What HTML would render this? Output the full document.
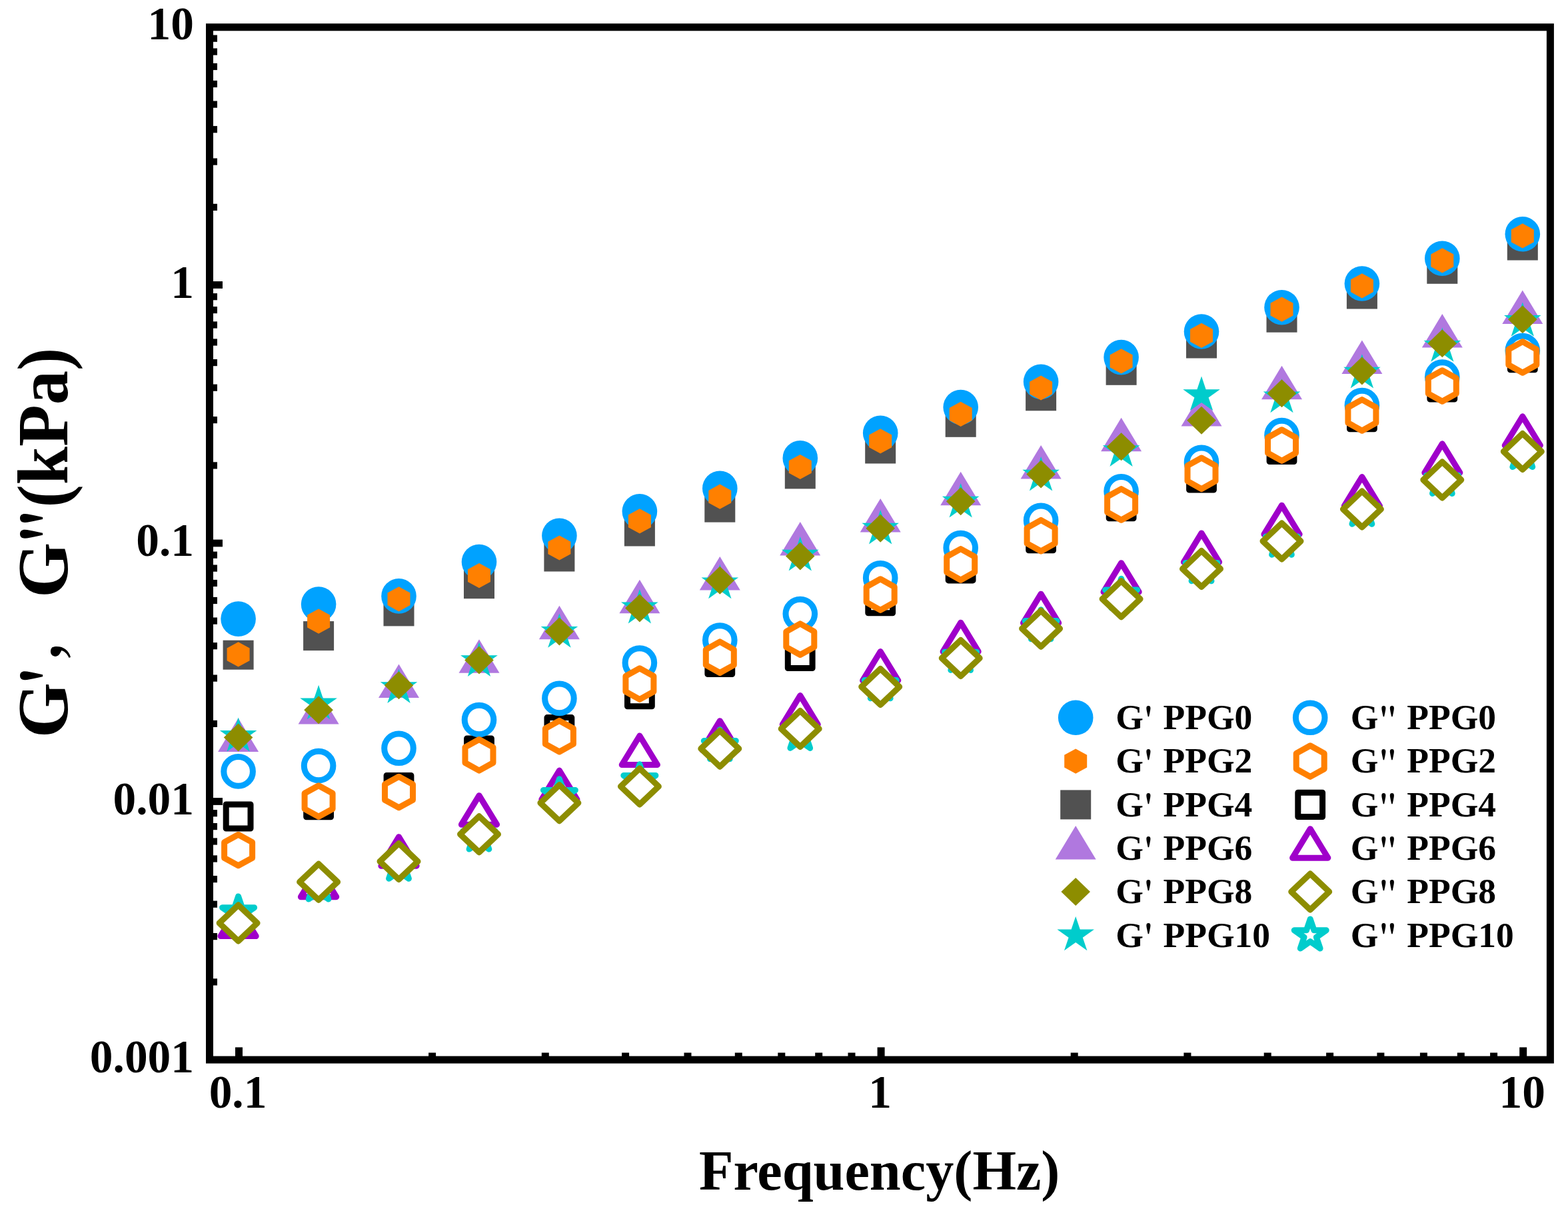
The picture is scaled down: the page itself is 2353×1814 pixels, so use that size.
<!DOCTYPE html>
<html><head><meta charset="utf-8"><style>
html,body{margin:0;padding:0;background:#fff;}
svg{display:block;}
</style></head><body>
<svg width="2353" height="1814" viewBox="0 0 2353 1814">
<rect width="2353" height="1814" fill="#fff"/>
<rect x="314.5" y="40.8" width="2011.9" height="1549.3" fill="none" stroke="#000" stroke-width="11"/>
<rect x="318" y="1468.3" width="8" height="10.2" fill="#000"/>
<rect x="318" y="1400.0" width="8" height="10.2" fill="#000"/>
<rect x="318" y="1351.6" width="8" height="10.2" fill="#000"/>
<rect x="318" y="1314.0" width="8" height="10.2" fill="#000"/>
<rect x="318" y="1283.4" width="8" height="10.2" fill="#000"/>
<rect x="318" y="1257.4" width="8" height="10.2" fill="#000"/>
<rect x="318" y="1235.0" width="8" height="10.2" fill="#000"/>
<rect x="318" y="1215.1" width="8" height="10.2" fill="#000"/>
<rect x="318" y="1197.1" width="16" height="10.8" fill="#000"/>
<rect x="318" y="1080.8" width="8" height="10.2" fill="#000"/>
<rect x="318" y="1012.5" width="8" height="10.2" fill="#000"/>
<rect x="318" y="964.1" width="8" height="10.2" fill="#000"/>
<rect x="318" y="926.5" width="8" height="10.2" fill="#000"/>
<rect x="318" y="895.9" width="8" height="10.2" fill="#000"/>
<rect x="318" y="869.9" width="8" height="10.2" fill="#000"/>
<rect x="318" y="847.5" width="8" height="10.2" fill="#000"/>
<rect x="318" y="827.6" width="8" height="10.2" fill="#000"/>
<rect x="318" y="809.6" width="16" height="10.8" fill="#000"/>
<rect x="318" y="693.3" width="8" height="10.2" fill="#000"/>
<rect x="318" y="625.0" width="8" height="10.2" fill="#000"/>
<rect x="318" y="576.6" width="8" height="10.2" fill="#000"/>
<rect x="318" y="539.0" width="8" height="10.2" fill="#000"/>
<rect x="318" y="508.4" width="8" height="10.2" fill="#000"/>
<rect x="318" y="482.4" width="8" height="10.2" fill="#000"/>
<rect x="318" y="460.0" width="8" height="10.2" fill="#000"/>
<rect x="318" y="440.1" width="8" height="10.2" fill="#000"/>
<rect x="318" y="422.1" width="16" height="10.8" fill="#000"/>
<rect x="318" y="305.8" width="8" height="10.2" fill="#000"/>
<rect x="318" y="237.5" width="8" height="10.2" fill="#000"/>
<rect x="318" y="189.1" width="8" height="10.2" fill="#000"/>
<rect x="318" y="151.5" width="8" height="10.2" fill="#000"/>
<rect x="318" y="120.9" width="8" height="10.2" fill="#000"/>
<rect x="318" y="94.9" width="8" height="10.2" fill="#000"/>
<rect x="318" y="72.5" width="8" height="10.2" fill="#000"/>
<rect x="318" y="52.6" width="8" height="10.2" fill="#000"/>
<rect x="353.0" y="1571.4" width="11" height="16" fill="#000"/>
<rect x="643.1" y="1579.5" width="11" height="8" fill="#000"/>
<rect x="812.8" y="1579.5" width="11" height="8" fill="#000"/>
<rect x="933.1" y="1579.5" width="11" height="8" fill="#000"/>
<rect x="1026.5" y="1579.5" width="11" height="8" fill="#000"/>
<rect x="1102.8" y="1579.5" width="11" height="8" fill="#000"/>
<rect x="1167.3" y="1579.5" width="11" height="8" fill="#000"/>
<rect x="1223.2" y="1579.5" width="11" height="8" fill="#000"/>
<rect x="1272.5" y="1579.5" width="11" height="8" fill="#000"/>
<rect x="1316.6" y="1571.4" width="11" height="16" fill="#000"/>
<rect x="1606.7" y="1579.5" width="11" height="8" fill="#000"/>
<rect x="1776.4" y="1579.5" width="11" height="8" fill="#000"/>
<rect x="1896.7" y="1579.5" width="11" height="8" fill="#000"/>
<rect x="1990.1" y="1579.5" width="11" height="8" fill="#000"/>
<rect x="2066.4" y="1579.5" width="11" height="8" fill="#000"/>
<rect x="2130.9" y="1579.5" width="11" height="8" fill="#000"/>
<rect x="2186.8" y="1579.5" width="11" height="8" fill="#000"/>
<rect x="2236.1" y="1579.5" width="11" height="8" fill="#000"/>
<rect x="2280.2" y="1571.4" width="11" height="16" fill="#000"/>
<text x="291" y="59.2" font-family="Liberation Serif, serif" font-weight="bold" font-size="69.4" text-anchor="end">10</text>
<text x="291" y="446.7" font-family="Liberation Serif, serif" font-weight="bold" font-size="69.4" text-anchor="end">1</text>
<text x="291" y="834.2" font-family="Liberation Serif, serif" font-weight="bold" font-size="69.4" text-anchor="end">0.1</text>
<text x="291" y="1221.7" font-family="Liberation Serif, serif" font-weight="bold" font-size="69.4" text-anchor="end">0.01</text>
<text x="291" y="1609.2" font-family="Liberation Serif, serif" font-weight="bold" font-size="69.4" text-anchor="end">0.001</text>
<text x="357.0" y="1662.2" font-family="Liberation Serif, serif" font-weight="bold" font-size="69.4" text-anchor="middle">0.1</text>
<text x="1320.6" y="1662.2" font-family="Liberation Serif, serif" font-weight="bold" font-size="69.4" text-anchor="middle">1</text>
<text x="2284.2" y="1662.2" font-family="Liberation Serif, serif" font-weight="bold" font-size="69.4" text-anchor="middle">10</text>
<text x="1048.9" y="1784.5" font-family="Liberation Serif, serif" font-weight="bold" font-size="84.3">Frequency(Hz)</text>
<g transform="translate(101,0) rotate(-90)"><text font-family="Liberation Serif, serif" font-weight="bold" font-size="107"><tspan x="-1107.3" y="0">G</tspan><tspan x="-1025.1" y="8" font-family="Noto Serif CJK SC, serif" font-size="96">&#39;</tspan><tspan x="-993" y="-12.1" font-family="Noto Serif CJK SC, serif" font-size="92">,</tspan><tspan x="-923.75" y="0"> G</tspan><tspan x="-812.4" y="8" font-family="Noto Serif CJK SC, serif" font-size="96">&#39;</tspan><tspan x="-788.7" y="8" font-family="Noto Serif CJK SC, serif" font-size="96">&#39;</tspan><tspan x="-761.4" y="0" textLength="239.6" lengthAdjust="spacingAndGlyphs">(kPa)</tspan></text></g>
<rect x="334.6" y="960.7" width="46" height="44" fill="#515151"/>
<rect x="455.1" y="932.1" width="46" height="44" fill="#515151"/>
<rect x="575.5" y="895.4" width="46" height="44" fill="#515151"/>
<rect x="696.0" y="854.2" width="46" height="44" fill="#515151"/>
<rect x="816.4" y="813.5" width="46" height="44" fill="#515151"/>
<rect x="936.9" y="775.5" width="46" height="44" fill="#515151"/>
<rect x="1057.3" y="739.6" width="46" height="44" fill="#515151"/>
<rect x="1177.8" y="689.4" width="46" height="44" fill="#515151"/>
<rect x="1298.2" y="651.5" width="46" height="44" fill="#515151"/>
<rect x="1418.7" y="611.8" width="46" height="44" fill="#515151"/>
<rect x="1539.1" y="572.3" width="46" height="44" fill="#515151"/>
<rect x="1659.6" y="533.8" width="46" height="44" fill="#515151"/>
<rect x="1780.0" y="493.5" width="46" height="44" fill="#515151"/>
<rect x="1900.5" y="454.7" width="46" height="44" fill="#515151"/>
<rect x="2020.9" y="419.5" width="46" height="44" fill="#515151"/>
<rect x="2141.3" y="381.8" width="46" height="44" fill="#515151"/>
<rect x="2261.8" y="346.5" width="46" height="44" fill="#515151"/>
<circle cx="357.6" cy="928.6" r="26.3" fill="#00A2FF"/>
<circle cx="478.1" cy="906.6" r="26.3" fill="#00A2FF"/>
<circle cx="598.5" cy="894.4" r="26.3" fill="#00A2FF"/>
<circle cx="719.0" cy="843.1" r="26.3" fill="#00A2FF"/>
<circle cx="839.4" cy="803.8" r="26.3" fill="#00A2FF"/>
<circle cx="959.9" cy="767.4" r="26.3" fill="#00A2FF"/>
<circle cx="1080.3" cy="732.9" r="26.3" fill="#00A2FF"/>
<circle cx="1200.8" cy="687.4" r="26.3" fill="#00A2FF"/>
<circle cx="1321.2" cy="649.8" r="26.3" fill="#00A2FF"/>
<circle cx="1441.7" cy="611.0" r="26.3" fill="#00A2FF"/>
<circle cx="1562.1" cy="572.7" r="26.3" fill="#00A2FF"/>
<circle cx="1682.6" cy="536.1" r="26.3" fill="#00A2FF"/>
<circle cx="1803.0" cy="497.5" r="26.3" fill="#00A2FF"/>
<circle cx="1923.5" cy="461.2" r="26.3" fill="#00A2FF"/>
<circle cx="2043.9" cy="425.5" r="26.3" fill="#00A2FF"/>
<circle cx="2164.3" cy="387.7" r="26.3" fill="#00A2FF"/>
<circle cx="2284.8" cy="351.3" r="26.3" fill="#00A2FF"/>
<polygon points="357.6,963.3 374.6,972.6 374.6,991.2 357.6,1000.5 340.6,991.2 340.6,972.6" fill="#FF8000"/>
<polygon points="478.1,913.5 495.1,922.8 495.1,941.4 478.1,950.7 461.1,941.4 461.1,922.8" fill="#FF8000"/>
<polygon points="598.5,880.2 615.5,889.5 615.5,908.1 598.5,917.4 581.5,908.1 581.5,889.5" fill="#FF8000"/>
<polygon points="719.0,845.0 736.0,854.3 736.0,872.9 719.0,882.2 702.0,872.9 702.0,854.3" fill="#FF8000"/>
<polygon points="839.4,803.4 856.4,812.7 856.4,831.3 839.4,840.6 822.4,831.3 822.4,812.7" fill="#FF8000"/>
<polygon points="959.9,763.3 976.9,772.6 976.9,791.2 959.9,800.5 942.9,791.2 942.9,772.6" fill="#FF8000"/>
<polygon points="1080.3,726.6 1097.3,735.9 1097.3,754.5 1080.3,763.8 1063.3,754.5 1063.3,735.9" fill="#FF8000"/>
<polygon points="1200.8,681.9 1217.8,691.2 1217.8,709.8 1200.8,719.1 1183.8,709.8 1183.8,691.2" fill="#FF8000"/>
<polygon points="1321.2,643.3 1338.2,652.6 1338.2,671.2 1321.2,680.5 1304.2,671.2 1304.2,652.6" fill="#FF8000"/>
<polygon points="1441.7,602.8 1458.7,612.1 1458.7,630.7 1441.7,640.0 1424.7,630.7 1424.7,612.1" fill="#FF8000"/>
<polygon points="1562.1,563.4 1579.1,572.7 1579.1,591.3 1562.1,600.6 1545.1,591.3 1545.1,572.7" fill="#FF8000"/>
<polygon points="1682.6,523.3 1699.6,532.6 1699.6,551.2 1682.6,560.5 1665.6,551.2 1665.6,532.6" fill="#FF8000"/>
<polygon points="1803.0,484.8 1820.0,494.1 1820.0,512.7 1803.0,522.0 1786.0,512.7 1786.0,494.1" fill="#FF8000"/>
<polygon points="1923.5,445.5 1940.5,454.8 1940.5,473.4 1923.5,482.7 1906.5,473.4 1906.5,454.8" fill="#FF8000"/>
<polygon points="2043.9,410.2 2060.9,419.5 2060.9,438.1 2043.9,447.4 2026.9,438.1 2026.9,419.5" fill="#FF8000"/>
<polygon points="2164.3,372.3 2181.3,381.6 2181.3,400.2 2164.3,409.5 2147.3,400.2 2147.3,381.6" fill="#FF8000"/>
<polygon points="2284.8,335.3 2301.8,344.6 2301.8,363.2 2284.8,372.5 2267.8,363.2 2267.8,344.6" fill="#FF8000"/>
<polygon points="357.6,1077.4 388.1,1127.9 327.1,1127.9" fill="#B078DF"/>
<polygon points="478.1,1036.1 508.6,1086.6 447.6,1086.6" fill="#B078DF"/>
<polygon points="598.5,996.6 629.0,1047.1 568.0,1047.1" fill="#B078DF"/>
<polygon points="719.0,959.3 749.5,1009.8 688.5,1009.8" fill="#B078DF"/>
<polygon points="839.4,908.8 869.9,959.3 808.9,959.3" fill="#B078DF"/>
<polygon points="959.9,869.8 990.4,920.3 929.4,920.3" fill="#B078DF"/>
<polygon points="1080.3,835.0 1110.8,885.5 1049.8,885.5" fill="#B078DF"/>
<polygon points="1200.8,783.1 1231.2,833.6 1170.2,833.6" fill="#B078DF"/>
<polygon points="1321.2,747.9 1351.7,798.4 1290.7,798.4" fill="#B078DF"/>
<polygon points="1441.7,707.8 1472.2,758.3 1411.2,758.3" fill="#B078DF"/>
<polygon points="1562.1,667.9 1592.6,718.4 1531.6,718.4" fill="#B078DF"/>
<polygon points="1682.6,626.7 1713.1,677.2 1652.1,677.2" fill="#B078DF"/>
<polygon points="1803.0,589.1 1833.5,639.6 1772.5,639.6" fill="#B078DF"/>
<polygon points="1923.5,548.7 1954.0,599.2 1893.0,599.2" fill="#B078DF"/>
<polygon points="2043.9,510.4 2074.4,560.9 2013.4,560.9" fill="#B078DF"/>
<polygon points="2164.3,471.1 2194.8,521.6 2133.8,521.6" fill="#B078DF"/>
<polygon points="2284.8,435.6 2315.3,486.1 2254.3,486.1" fill="#B078DF"/>
<polygon points="357.6,1076.4 364.2,1096.0 385.4,1096.0 368.2,1108.2 374.8,1127.8 357.6,1115.6 340.4,1127.8 347.0,1108.2 329.8,1096.0 351.0,1096.0" fill="#00CCCC"/>
<polygon points="478.1,1027.8 484.6,1047.4 505.9,1047.4 488.7,1059.6 495.2,1079.2 478.1,1067.0 460.9,1079.2 467.4,1059.6 450.2,1047.4 471.5,1047.4" fill="#00CCCC"/>
<polygon points="598.5,1003.6 605.1,1023.2 626.3,1023.2 609.1,1035.4 615.7,1055.0 598.5,1042.8 581.3,1055.0 587.9,1035.4 570.7,1023.2 591.9,1023.2" fill="#00CCCC"/>
<polygon points="719.0,963.6 725.5,983.2 746.8,983.2 729.6,995.4 736.1,1015.0 719.0,1002.9 701.8,1015.0 708.3,995.4 691.1,983.2 712.4,983.2" fill="#00CCCC"/>
<polygon points="839.4,920.4 846.0,940.0 867.2,940.0 850.0,952.2 856.6,971.8 839.4,959.6 822.2,971.8 828.8,952.2 811.6,940.0 832.8,940.0" fill="#00CCCC"/>
<polygon points="959.9,884.0 966.4,903.6 987.7,903.6 970.5,915.8 977.0,935.4 959.9,923.2 942.7,935.4 949.2,915.8 932.0,903.6 953.3,903.6" fill="#00CCCC"/>
<polygon points="1080.3,846.8 1086.9,866.4 1108.1,866.4 1090.9,878.6 1097.5,898.2 1080.3,886.1 1063.1,898.2 1069.7,878.6 1052.5,866.4 1073.7,866.4" fill="#00CCCC"/>
<polygon points="1200.8,805.1 1207.3,824.7 1228.6,824.7 1211.4,836.9 1217.9,856.5 1200.8,844.4 1183.6,856.5 1190.1,836.9 1172.9,824.7 1194.2,824.7" fill="#00CCCC"/>
<polygon points="1321.2,765.1 1327.8,784.7 1349.0,784.7 1331.8,796.9 1338.4,816.5 1321.2,804.4 1304.0,816.5 1310.6,796.9 1293.4,784.7 1314.6,784.7" fill="#00CCCC"/>
<polygon points="1441.7,725.1 1448.2,744.7 1469.5,744.7 1452.3,756.9 1458.8,776.5 1441.7,764.4 1424.5,776.5 1431.0,756.9 1413.8,744.7 1435.1,744.7" fill="#00CCCC"/>
<polygon points="1562.1,685.1 1568.7,704.7 1589.9,704.7 1572.7,716.9 1579.3,736.5 1562.1,724.4 1544.9,736.5 1551.5,716.9 1534.3,704.7 1555.5,704.7" fill="#00CCCC"/>
<polygon points="1682.6,648.7 1689.1,668.3 1710.4,668.3 1693.2,680.5 1699.7,700.1 1682.6,688.0 1665.4,700.1 1671.9,680.5 1654.7,668.3 1676.0,668.3" fill="#00CCCC"/>
<polygon points="1803.0,564.6 1809.6,584.2 1830.8,584.2 1813.6,596.4 1820.2,616.0 1803.0,603.9 1785.8,616.0 1792.4,596.4 1775.2,584.2 1796.4,584.2" fill="#00CCCC"/>
<polygon points="1923.5,567.9 1930.0,587.5 1951.3,587.5 1934.1,599.7 1940.6,619.3 1923.5,607.1 1906.3,619.3 1912.8,599.7 1895.6,587.5 1916.9,587.5" fill="#00CCCC"/>
<polygon points="2043.9,531.2 2050.5,550.8 2071.7,550.8 2054.5,563.0 2061.1,582.6 2043.9,570.5 2026.7,582.6 2033.3,563.0 2016.1,550.8 2037.3,550.8" fill="#00CCCC"/>
<polygon points="2164.3,491.4 2170.9,511.0 2192.2,511.0 2175.0,523.2 2181.5,542.8 2164.3,530.6 2147.2,542.8 2153.7,523.2 2136.5,511.0 2157.8,511.0" fill="#00CCCC"/>
<polygon points="2284.8,453.4 2291.4,473.0 2312.6,473.0 2295.4,485.2 2302.0,504.8 2284.8,492.7 2267.6,504.8 2274.2,485.2 2257.0,473.0 2278.2,473.0" fill="#00CCCC"/>
<polygon points="357.6,1085.6 379.4,1106.6 357.6,1127.6 335.8,1106.6" fill="#8D8D00"/>
<polygon points="478.1,1044.3 499.9,1065.3 478.1,1086.3 456.2,1065.3" fill="#8D8D00"/>
<polygon points="598.5,1007.3 620.3,1028.3 598.5,1049.3 576.7,1028.3" fill="#8D8D00"/>
<polygon points="719.0,969.6 740.8,990.6 719.0,1011.6 697.2,990.6" fill="#8D8D00"/>
<polygon points="839.4,926.6 861.2,947.6 839.4,968.6 817.6,947.6" fill="#8D8D00"/>
<polygon points="959.9,891.4 981.6,912.4 959.9,933.4 938.1,912.4" fill="#8D8D00"/>
<polygon points="1080.3,849.8 1102.1,870.8 1080.3,891.8 1058.5,870.8" fill="#8D8D00"/>
<polygon points="1200.8,813.5 1222.5,834.5 1200.8,855.5 1179.0,834.5" fill="#8D8D00"/>
<polygon points="1321.2,771.8 1343.0,792.8 1321.2,813.8 1299.4,792.8" fill="#8D8D00"/>
<polygon points="1441.7,731.2 1463.5,752.2 1441.7,773.2 1419.9,752.2" fill="#8D8D00"/>
<polygon points="1562.1,690.6 1583.9,711.6 1562.1,732.6 1540.3,711.6" fill="#8D8D00"/>
<polygon points="1682.6,649.3 1704.4,670.3 1682.6,691.3 1660.8,670.3" fill="#8D8D00"/>
<polygon points="1803.0,609.8 1824.8,630.8 1803.0,651.8 1781.2,630.8" fill="#8D8D00"/>
<polygon points="1923.5,569.3 1945.3,590.3 1923.5,611.3 1901.7,590.3" fill="#8D8D00"/>
<polygon points="2043.9,535.4 2065.7,556.4 2043.9,577.4 2022.1,556.4" fill="#8D8D00"/>
<polygon points="2164.3,494.3 2186.2,515.3 2164.3,536.3 2142.5,515.3" fill="#8D8D00"/>
<polygon points="2284.8,458.3 2306.6,479.3 2284.8,500.3 2263.0,479.3" fill="#8D8D00"/>
<rect x="339.2" y="1206.9" width="36.8" height="36.2" fill="#fff" stroke-width="9" stroke-linejoin="round" stroke="#000000"/>
<rect x="459.7" y="1189.6" width="36.8" height="36.2" fill="#fff" stroke-width="9" stroke-linejoin="round" stroke="#000000"/>
<rect x="580.1" y="1163.4" width="36.8" height="36.2" fill="#fff" stroke-width="9" stroke-linejoin="round" stroke="#000000"/>
<rect x="700.6" y="1107.9" width="36.8" height="36.2" fill="#fff" stroke-width="9" stroke-linejoin="round" stroke="#000000"/>
<rect x="821.0" y="1076.6" width="36.8" height="36.2" fill="#fff" stroke-width="9" stroke-linejoin="round" stroke="#000000"/>
<rect x="941.5" y="1023.6" width="36.8" height="36.2" fill="#fff" stroke-width="9" stroke-linejoin="round" stroke="#000000"/>
<rect x="1061.9" y="975.3" width="36.8" height="36.2" fill="#fff" stroke-width="9" stroke-linejoin="round" stroke="#000000"/>
<rect x="1182.3" y="966.4" width="36.8" height="36.2" fill="#fff" stroke-width="9" stroke-linejoin="round" stroke="#000000"/>
<rect x="1302.8" y="883.6" width="36.8" height="36.2" fill="#fff" stroke-width="9" stroke-linejoin="round" stroke="#000000"/>
<rect x="1423.2" y="834.7" width="36.8" height="36.2" fill="#fff" stroke-width="9" stroke-linejoin="round" stroke="#000000"/>
<rect x="1543.7" y="789.6" width="36.8" height="36.2" fill="#fff" stroke-width="9" stroke-linejoin="round" stroke="#000000"/>
<rect x="1664.2" y="741.5" width="36.8" height="36.2" fill="#fff" stroke-width="9" stroke-linejoin="round" stroke="#000000"/>
<rect x="1784.6" y="698.8" width="36.8" height="36.2" fill="#fff" stroke-width="9" stroke-linejoin="round" stroke="#000000"/>
<rect x="1905.1" y="656.3" width="36.8" height="36.2" fill="#fff" stroke-width="9" stroke-linejoin="round" stroke="#000000"/>
<rect x="2025.5" y="607.5" width="36.8" height="36.2" fill="#fff" stroke-width="9" stroke-linejoin="round" stroke="#000000"/>
<rect x="2145.9" y="562.9" width="36.8" height="36.2" fill="#fff" stroke-width="9" stroke-linejoin="round" stroke="#000000"/>
<rect x="2266.4" y="518.5" width="36.8" height="36.2" fill="#fff" stroke-width="9" stroke-linejoin="round" stroke="#000000"/>
<circle cx="357.6" cy="1157.4" r="21.8" fill="#fff" stroke-width="9" stroke-linejoin="round" stroke="#00A2FF"/>
<circle cx="478.1" cy="1149.0" r="21.8" fill="#fff" stroke-width="9" stroke-linejoin="round" stroke="#00A2FF"/>
<circle cx="598.5" cy="1122.8" r="21.8" fill="#fff" stroke-width="9" stroke-linejoin="round" stroke="#00A2FF"/>
<circle cx="719.0" cy="1080.0" r="21.8" fill="#fff" stroke-width="9" stroke-linejoin="round" stroke="#00A2FF"/>
<circle cx="839.4" cy="1047.9" r="21.8" fill="#fff" stroke-width="9" stroke-linejoin="round" stroke="#00A2FF"/>
<circle cx="959.9" cy="994.5" r="21.8" fill="#fff" stroke-width="9" stroke-linejoin="round" stroke="#00A2FF"/>
<circle cx="1080.3" cy="960.6" r="21.8" fill="#fff" stroke-width="9" stroke-linejoin="round" stroke="#00A2FF"/>
<circle cx="1200.8" cy="921.1" r="21.8" fill="#fff" stroke-width="9" stroke-linejoin="round" stroke="#00A2FF"/>
<circle cx="1321.2" cy="867.2" r="21.8" fill="#fff" stroke-width="9" stroke-linejoin="round" stroke="#00A2FF"/>
<circle cx="1441.7" cy="822.0" r="21.8" fill="#fff" stroke-width="9" stroke-linejoin="round" stroke="#00A2FF"/>
<circle cx="1562.1" cy="780.9" r="21.8" fill="#fff" stroke-width="9" stroke-linejoin="round" stroke="#00A2FF"/>
<circle cx="1682.6" cy="737.3" r="21.8" fill="#fff" stroke-width="9" stroke-linejoin="round" stroke="#00A2FF"/>
<circle cx="1803.0" cy="693.7" r="21.8" fill="#fff" stroke-width="9" stroke-linejoin="round" stroke="#00A2FF"/>
<circle cx="1923.5" cy="653.1" r="21.8" fill="#fff" stroke-width="9" stroke-linejoin="round" stroke="#00A2FF"/>
<circle cx="2043.9" cy="608.0" r="21.8" fill="#fff" stroke-width="9" stroke-linejoin="round" stroke="#00A2FF"/>
<circle cx="2164.3" cy="565.6" r="21.8" fill="#fff" stroke-width="9" stroke-linejoin="round" stroke="#00A2FF"/>
<circle cx="2284.8" cy="526.0" r="21.8" fill="#fff" stroke-width="9" stroke-linejoin="round" stroke="#00A2FF"/>
<polygon points="357.6,1252.2 378.6,1263.8 378.6,1287.2 357.6,1298.8 336.6,1287.2 336.6,1263.8" fill="#fff" stroke-width="9" stroke-linejoin="round" stroke="#FF8000"/>
<polygon points="478.1,1178.7 499.1,1190.3 499.1,1213.7 478.1,1225.3 457.1,1213.7 457.1,1190.3" fill="#fff" stroke-width="9" stroke-linejoin="round" stroke="#FF8000"/>
<polygon points="598.5,1165.2 619.5,1176.8 619.5,1200.2 598.5,1211.8 577.5,1200.2 577.5,1176.8" fill="#fff" stroke-width="9" stroke-linejoin="round" stroke="#FF8000"/>
<polygon points="719.0,1109.5 740.0,1121.1 740.0,1144.5 719.0,1156.1 698.0,1144.5 698.0,1121.1" fill="#fff" stroke-width="9" stroke-linejoin="round" stroke="#FF8000"/>
<polygon points="839.4,1081.4 860.4,1093.0 860.4,1116.4 839.4,1128.0 818.4,1116.4 818.4,1093.0" fill="#fff" stroke-width="9" stroke-linejoin="round" stroke="#FF8000"/>
<polygon points="959.9,1002.8 980.9,1014.4 980.9,1037.8 959.9,1049.4 938.9,1037.8 938.9,1014.4" fill="#fff" stroke-width="9" stroke-linejoin="round" stroke="#FF8000"/>
<polygon points="1080.3,962.9 1101.3,974.6 1101.3,997.9 1080.3,1009.5 1059.3,997.9 1059.3,974.6" fill="#fff" stroke-width="9" stroke-linejoin="round" stroke="#FF8000"/>
<polygon points="1200.8,935.9 1221.8,947.6 1221.8,970.9 1200.8,982.5 1179.8,970.9 1179.8,947.6" fill="#fff" stroke-width="9" stroke-linejoin="round" stroke="#FF8000"/>
<polygon points="1321.2,868.8 1342.2,880.5 1342.2,903.8 1321.2,915.4 1300.2,903.8 1300.2,880.5" fill="#fff" stroke-width="9" stroke-linejoin="round" stroke="#FF8000"/>
<polygon points="1441.7,823.6 1462.7,835.2 1462.7,858.5 1441.7,870.2 1420.7,858.5 1420.7,835.2" fill="#fff" stroke-width="9" stroke-linejoin="round" stroke="#FF8000"/>
<polygon points="1562.1,780.4 1583.1,792.1 1583.1,815.4 1562.1,827.0 1541.1,815.4 1541.1,792.1" fill="#fff" stroke-width="9" stroke-linejoin="round" stroke="#FF8000"/>
<polygon points="1682.6,733.6 1703.6,745.2 1703.6,768.5 1682.6,780.2 1661.6,768.5 1661.6,745.2" fill="#fff" stroke-width="9" stroke-linejoin="round" stroke="#FF8000"/>
<polygon points="1803.0,687.0 1824.0,698.6 1824.0,721.9 1803.0,733.6 1782.0,721.9 1782.0,698.6" fill="#fff" stroke-width="9" stroke-linejoin="round" stroke="#FF8000"/>
<polygon points="1923.5,644.8 1944.5,656.5 1944.5,679.8 1923.5,691.4 1902.5,679.8 1902.5,656.5" fill="#fff" stroke-width="9" stroke-linejoin="round" stroke="#FF8000"/>
<polygon points="2043.9,599.6 2064.9,611.2 2064.9,634.5 2043.9,646.2 2022.9,634.5 2022.9,611.2" fill="#fff" stroke-width="9" stroke-linejoin="round" stroke="#FF8000"/>
<polygon points="2164.3,555.7 2185.3,567.4 2185.3,590.6 2164.3,602.3 2143.3,590.6 2143.3,567.4" fill="#fff" stroke-width="9" stroke-linejoin="round" stroke="#FF8000"/>
<polygon points="2284.8,512.6 2305.8,524.2 2305.8,547.5 2284.8,559.2 2263.8,547.5 2263.8,524.2" fill="#fff" stroke-width="9" stroke-linejoin="round" stroke="#FF8000"/>
<polygon points="357.6,1361.1 384.2,1404.6 331.0,1404.6" fill="#fff" stroke-width="9" stroke-linejoin="round" stroke="#9F00CA"/>
<polygon points="478.1,1302.2 504.7,1345.7 451.4,1345.7" fill="#fff" stroke-width="9" stroke-linejoin="round" stroke="#9F00CA"/>
<polygon points="598.5,1255.7 625.1,1299.2 571.9,1299.2" fill="#fff" stroke-width="9" stroke-linejoin="round" stroke="#9F00CA"/>
<polygon points="719.0,1193.7 745.6,1237.2 692.4,1237.2" fill="#fff" stroke-width="9" stroke-linejoin="round" stroke="#9F00CA"/>
<polygon points="839.4,1156.0 866.0,1199.5 812.8,1199.5" fill="#fff" stroke-width="9" stroke-linejoin="round" stroke="#9F00CA"/>
<polygon points="959.9,1104.0 986.5,1147.5 933.2,1147.5" fill="#fff" stroke-width="9" stroke-linejoin="round" stroke="#9F00CA"/>
<polygon points="1080.3,1081.7 1106.9,1125.2 1053.7,1125.2" fill="#fff" stroke-width="9" stroke-linejoin="round" stroke="#9F00CA"/>
<polygon points="1200.8,1043.5 1227.3,1087.0 1174.2,1087.0" fill="#fff" stroke-width="9" stroke-linejoin="round" stroke="#9F00CA"/>
<polygon points="1321.2,977.5 1347.8,1021.0 1294.6,1021.0" fill="#fff" stroke-width="9" stroke-linejoin="round" stroke="#9F00CA"/>
<polygon points="1441.7,934.2 1468.2,977.7 1415.1,977.7" fill="#fff" stroke-width="9" stroke-linejoin="round" stroke="#9F00CA"/>
<polygon points="1562.1,891.2 1588.7,934.7 1535.5,934.7" fill="#fff" stroke-width="9" stroke-linejoin="round" stroke="#9F00CA"/>
<polygon points="1682.6,844.7 1709.2,888.2 1656.0,888.2" fill="#fff" stroke-width="9" stroke-linejoin="round" stroke="#9F00CA"/>
<polygon points="1803.0,799.9 1829.6,843.4 1776.4,843.4" fill="#fff" stroke-width="9" stroke-linejoin="round" stroke="#9F00CA"/>
<polygon points="1923.5,758.2 1950.1,801.7 1896.9,801.7" fill="#fff" stroke-width="9" stroke-linejoin="round" stroke="#9F00CA"/>
<polygon points="2043.9,715.5 2070.5,759.0 2017.3,759.0" fill="#fff" stroke-width="9" stroke-linejoin="round" stroke="#9F00CA"/>
<polygon points="2164.3,665.8 2190.9,709.3 2137.8,709.3" fill="#fff" stroke-width="9" stroke-linejoin="round" stroke="#9F00CA"/>
<polygon points="2284.8,624.8 2311.4,668.3 2258.2,668.3" fill="#fff" stroke-width="9" stroke-linejoin="round" stroke="#9F00CA"/>
<polygon points="357.6,1344.9 363.3,1361.7 381.6,1361.7 366.8,1372.1 372.5,1388.9 357.6,1378.5 342.7,1388.9 348.4,1372.1 333.6,1361.7 351.9,1361.7" fill="#fff" stroke-width="9" stroke-linejoin="round" stroke="#00CCCC"/>
<polygon points="478.1,1305.1 483.7,1321.9 502.1,1321.9 487.2,1332.3 492.9,1349.1 478.1,1338.7 463.2,1349.1 468.9,1332.3 454.0,1321.9 472.4,1321.9" fill="#fff" stroke-width="9" stroke-linejoin="round" stroke="#00CCCC"/>
<polygon points="598.5,1274.2 604.2,1291.0 622.5,1291.0 607.7,1301.4 613.4,1318.2 598.5,1307.8 583.6,1318.2 589.3,1301.4 574.5,1291.0 592.8,1291.0" fill="#fff" stroke-width="9" stroke-linejoin="round" stroke="#00CCCC"/>
<polygon points="719.0,1230.1 724.6,1246.9 743.0,1246.9 728.1,1257.3 733.8,1274.1 719.0,1263.7 704.1,1274.1 709.8,1257.3 694.9,1246.9 713.3,1246.9" fill="#fff" stroke-width="9" stroke-linejoin="round" stroke="#00CCCC"/>
<polygon points="839.4,1168.7 845.1,1185.5 863.4,1185.5 848.6,1195.9 854.3,1212.7 839.4,1202.3 824.5,1212.7 830.2,1195.9 815.4,1185.5 833.7,1185.5" fill="#fff" stroke-width="9" stroke-linejoin="round" stroke="#00CCCC"/>
<polygon points="959.9,1146.7 965.5,1163.5 983.9,1163.5 969.0,1173.9 974.7,1190.7 959.9,1180.3 945.0,1190.7 950.7,1173.9 935.8,1163.5 954.2,1163.5" fill="#fff" stroke-width="9" stroke-linejoin="round" stroke="#00CCCC"/>
<polygon points="1080.3,1094.7 1086.0,1111.5 1104.3,1111.5 1089.5,1121.9 1095.2,1138.7 1080.3,1128.3 1065.4,1138.7 1071.1,1121.9 1056.3,1111.5 1074.6,1111.5" fill="#fff" stroke-width="9" stroke-linejoin="round" stroke="#00CCCC"/>
<polygon points="1200.8,1078.4 1206.4,1095.2 1224.8,1095.2 1209.9,1105.6 1215.6,1122.4 1200.8,1112.0 1185.9,1122.4 1191.6,1105.6 1176.7,1095.2 1195.1,1095.2" fill="#fff" stroke-width="9" stroke-linejoin="round" stroke="#00CCCC"/>
<polygon points="1321.2,1003.7 1326.9,1020.5 1345.2,1020.5 1330.4,1030.9 1336.1,1047.7 1321.2,1037.3 1306.3,1047.7 1312.0,1030.9 1297.2,1020.5 1315.5,1020.5" fill="#fff" stroke-width="9" stroke-linejoin="round" stroke="#00CCCC"/>
<polygon points="1441.7,961.4 1447.3,978.2 1465.7,978.2 1450.8,988.6 1456.5,1005.4 1441.7,995.0 1426.8,1005.4 1432.5,988.6 1417.6,978.2 1436.0,978.2" fill="#fff" stroke-width="9" stroke-linejoin="round" stroke="#00CCCC"/>
<polygon points="1562.1,914.7 1567.8,931.5 1586.1,931.5 1571.3,941.9 1577.0,958.7 1562.1,948.3 1547.2,958.7 1552.9,941.9 1538.1,931.5 1556.4,931.5" fill="#fff" stroke-width="9" stroke-linejoin="round" stroke="#00CCCC"/>
<polygon points="1682.6,868.2 1688.2,885.0 1706.6,885.0 1691.7,895.4 1697.4,912.2 1682.6,901.8 1667.7,912.2 1673.4,895.4 1658.5,885.0 1676.9,885.0" fill="#fff" stroke-width="9" stroke-linejoin="round" stroke="#00CCCC"/>
<polygon points="1803.0,827.7 1808.7,844.5 1827.0,844.5 1812.2,854.9 1817.9,871.7 1803.0,861.3 1788.1,871.7 1793.8,854.9 1779.0,844.5 1797.3,844.5" fill="#fff" stroke-width="9" stroke-linejoin="round" stroke="#00CCCC"/>
<polygon points="1923.5,788.2 1929.1,805.0 1947.5,805.0 1932.6,815.4 1938.3,832.2 1923.5,821.8 1908.6,832.2 1914.3,815.4 1899.4,805.0 1917.8,805.0" fill="#fff" stroke-width="9" stroke-linejoin="round" stroke="#00CCCC"/>
<polygon points="2043.9,742.2 2049.6,759.0 2067.9,759.0 2053.1,769.4 2058.8,786.2 2043.9,775.8 2029.0,786.2 2034.7,769.4 2019.9,759.0 2038.2,759.0" fill="#fff" stroke-width="9" stroke-linejoin="round" stroke="#00CCCC"/>
<polygon points="2164.3,696.5 2170.0,713.3 2188.4,713.3 2173.5,723.7 2179.2,740.5 2164.3,730.1 2149.5,740.5 2155.2,723.7 2140.3,713.3 2158.7,713.3" fill="#fff" stroke-width="9" stroke-linejoin="round" stroke="#00CCCC"/>
<polygon points="2284.8,656.6 2290.5,673.4 2308.8,673.4 2294.0,683.8 2299.7,700.6 2284.8,690.2 2269.9,700.6 2275.6,683.8 2260.8,673.4 2279.1,673.4" fill="#fff" stroke-width="9" stroke-linejoin="round" stroke="#00CCCC"/>
<polygon points="357.6,1357.9 386.1,1384.9 357.6,1411.9 329.1,1384.9" fill="#fff" stroke-width="9" stroke-linejoin="round" stroke="#8D8D00"/>
<polygon points="478.1,1296.3 506.6,1323.3 478.1,1350.3 449.6,1323.3" fill="#fff" stroke-width="9" stroke-linejoin="round" stroke="#8D8D00"/>
<polygon points="598.5,1265.4 627.0,1292.4 598.5,1319.4 570.0,1292.4" fill="#fff" stroke-width="9" stroke-linejoin="round" stroke="#8D8D00"/>
<polygon points="719.0,1224.7 747.5,1251.7 719.0,1278.7 690.5,1251.7" fill="#fff" stroke-width="9" stroke-linejoin="round" stroke="#8D8D00"/>
<polygon points="839.4,1177.7 867.9,1204.7 839.4,1231.7 810.9,1204.7" fill="#fff" stroke-width="9" stroke-linejoin="round" stroke="#8D8D00"/>
<polygon points="959.9,1153.0 988.4,1180.0 959.9,1207.0 931.4,1180.0" fill="#fff" stroke-width="9" stroke-linejoin="round" stroke="#8D8D00"/>
<polygon points="1080.3,1096.3 1108.8,1123.3 1080.3,1150.3 1051.8,1123.3" fill="#fff" stroke-width="9" stroke-linejoin="round" stroke="#8D8D00"/>
<polygon points="1200.8,1066.6 1229.2,1093.6 1200.8,1120.6 1172.2,1093.6" fill="#fff" stroke-width="9" stroke-linejoin="round" stroke="#8D8D00"/>
<polygon points="1321.2,1003.4 1349.7,1030.4 1321.2,1057.4 1292.7,1030.4" fill="#fff" stroke-width="9" stroke-linejoin="round" stroke="#8D8D00"/>
<polygon points="1441.7,960.5 1470.2,987.5 1441.7,1014.5 1413.2,987.5" fill="#fff" stroke-width="9" stroke-linejoin="round" stroke="#8D8D00"/>
<polygon points="1562.1,916.2 1590.6,943.2 1562.1,970.2 1533.6,943.2" fill="#fff" stroke-width="9" stroke-linejoin="round" stroke="#8D8D00"/>
<polygon points="1682.6,871.7 1711.1,898.7 1682.6,925.7 1654.1,898.7" fill="#fff" stroke-width="9" stroke-linejoin="round" stroke="#8D8D00"/>
<polygon points="1803.0,826.6 1831.5,853.6 1803.0,880.6 1774.5,853.6" fill="#fff" stroke-width="9" stroke-linejoin="round" stroke="#8D8D00"/>
<polygon points="1923.5,784.9 1952.0,811.9 1923.5,838.9 1895.0,811.9" fill="#fff" stroke-width="9" stroke-linejoin="round" stroke="#8D8D00"/>
<polygon points="2043.9,737.0 2072.4,764.0 2043.9,791.0 2015.4,764.0" fill="#fff" stroke-width="9" stroke-linejoin="round" stroke="#8D8D00"/>
<polygon points="2164.3,692.9 2192.8,719.9 2164.3,746.9 2135.8,719.9" fill="#fff" stroke-width="9" stroke-linejoin="round" stroke="#8D8D00"/>
<polygon points="2284.8,650.4 2313.3,677.4 2284.8,704.4 2256.3,677.4" fill="#fff" stroke-width="9" stroke-linejoin="round" stroke="#8D8D00"/>
<circle cx="1614.2" cy="1076.8" r="26.3" fill="#00A2FF"/>
<text font-family="Liberation Serif, serif" font-weight="bold" font-size="53.5"><tspan x="1674.3" y="1094.0">G</tspan><tspan x="1718.1" y="1096.9" font-family="Noto Serif CJK SC, serif" font-size="46">&#39;</tspan><tspan x="1732.2" y="1094.0"> PPG0</tspan></text>
<polygon points="1614.2,1123.5 1631.2,1132.8 1631.2,1151.4 1614.2,1160.7 1597.2,1151.4 1597.2,1132.8" fill="#FF8000"/>
<text font-family="Liberation Serif, serif" font-weight="bold" font-size="53.5"><tspan x="1674.3" y="1159.3">G</tspan><tspan x="1718.1" y="1162.2" font-family="Noto Serif CJK SC, serif" font-size="46">&#39;</tspan><tspan x="1732.2" y="1159.3"> PPG2</tspan></text>
<rect x="1591.2" y="1185.4" width="46" height="44" fill="#515151"/>
<text font-family="Liberation Serif, serif" font-weight="bold" font-size="53.5"><tspan x="1674.3" y="1224.6">G</tspan><tspan x="1718.1" y="1227.5" font-family="Noto Serif CJK SC, serif" font-size="46">&#39;</tspan><tspan x="1732.2" y="1224.6"> PPG4</tspan></text>
<polygon points="1614.2,1239.0 1644.7,1289.5 1583.7,1289.5" fill="#B078DF"/>
<text font-family="Liberation Serif, serif" font-weight="bold" font-size="53.5"><tspan x="1674.3" y="1289.9">G</tspan><tspan x="1718.1" y="1292.8" font-family="Noto Serif CJK SC, serif" font-size="46">&#39;</tspan><tspan x="1732.2" y="1289.9"> PPG6</tspan></text>
<polygon points="1614.2,1317.0 1636.0,1338.0 1614.2,1359.0 1592.4,1338.0" fill="#8D8D00"/>
<text font-family="Liberation Serif, serif" font-weight="bold" font-size="53.5"><tspan x="1674.3" y="1355.2">G</tspan><tspan x="1718.1" y="1358.1" font-family="Noto Serif CJK SC, serif" font-size="46">&#39;</tspan><tspan x="1732.2" y="1355.2"> PPG8</tspan></text>
<polygon points="1614.2,1374.9 1620.8,1394.5 1642.0,1394.5 1624.8,1406.7 1631.4,1426.3 1614.2,1414.1 1597.0,1426.3 1603.6,1406.7 1586.4,1394.5 1607.6,1394.5" fill="#00CCCC"/>
<text font-family="Liberation Serif, serif" font-weight="bold" font-size="53.5"><tspan x="1674.3" y="1420.5">G</tspan><tspan x="1718.1" y="1423.4" font-family="Noto Serif CJK SC, serif" font-size="46">&#39;</tspan><tspan x="1732.2" y="1420.5"> PPG10</tspan></text>
<circle cx="1966.2" cy="1076.8" r="21.8" fill="#fff" stroke-width="9" stroke-linejoin="round" stroke="#00A2FF"/>
<text font-family="Liberation Serif, serif" font-weight="bold" font-size="53.5"><tspan x="2026.8" y="1094.0">G</tspan><tspan x="2070.9" y="1096.9" font-family="Noto Serif CJK SC, serif" font-size="46">&#39;</tspan><tspan x="2083.6" y="1096.9" font-family="Noto Serif CJK SC, serif" font-size="46">&#39;</tspan><tspan x="2097.9" y="1094.0"> PPG0</tspan></text>
<polygon points="1966.2,1118.8 1987.2,1130.4 1987.2,1153.8 1966.2,1165.4 1945.2,1153.8 1945.2,1130.4" fill="#fff" stroke-width="9" stroke-linejoin="round" stroke="#FF8000"/>
<text font-family="Liberation Serif, serif" font-weight="bold" font-size="53.5"><tspan x="2026.8" y="1159.3">G</tspan><tspan x="2070.9" y="1162.2" font-family="Noto Serif CJK SC, serif" font-size="46">&#39;</tspan><tspan x="2083.6" y="1162.2" font-family="Noto Serif CJK SC, serif" font-size="46">&#39;</tspan><tspan x="2097.9" y="1159.3"> PPG2</tspan></text>
<rect x="1947.8" y="1189.3" width="36.8" height="36.2" fill="#fff" stroke-width="9" stroke-linejoin="round" stroke="#000000"/>
<text font-family="Liberation Serif, serif" font-weight="bold" font-size="53.5"><tspan x="2026.8" y="1224.6">G</tspan><tspan x="2070.9" y="1227.5" font-family="Noto Serif CJK SC, serif" font-size="46">&#39;</tspan><tspan x="2083.6" y="1227.5" font-family="Noto Serif CJK SC, serif" font-size="46">&#39;</tspan><tspan x="2097.9" y="1224.6"> PPG4</tspan></text>
<polygon points="1966.2,1243.7 1992.8,1287.2 1939.6,1287.2" fill="#fff" stroke-width="9" stroke-linejoin="round" stroke="#9F00CA"/>
<text font-family="Liberation Serif, serif" font-weight="bold" font-size="53.5"><tspan x="2026.8" y="1289.9">G</tspan><tspan x="2070.9" y="1292.8" font-family="Noto Serif CJK SC, serif" font-size="46">&#39;</tspan><tspan x="2083.6" y="1292.8" font-family="Noto Serif CJK SC, serif" font-size="46">&#39;</tspan><tspan x="2097.9" y="1289.9"> PPG6</tspan></text>
<polygon points="1966.2,1311.0 1994.7,1338.0 1966.2,1365.0 1937.7,1338.0" fill="#fff" stroke-width="9" stroke-linejoin="round" stroke="#8D8D00"/>
<text font-family="Liberation Serif, serif" font-weight="bold" font-size="53.5"><tspan x="2026.8" y="1355.2">G</tspan><tspan x="2070.9" y="1358.1" font-family="Noto Serif CJK SC, serif" font-size="46">&#39;</tspan><tspan x="2083.6" y="1358.1" font-family="Noto Serif CJK SC, serif" font-size="46">&#39;</tspan><tspan x="2097.9" y="1355.2"> PPG8</tspan></text>
<polygon points="1966.2,1379.0 1971.9,1395.8 1990.2,1395.8 1975.4,1406.2 1981.1,1423.0 1966.2,1412.6 1951.3,1423.0 1957.0,1406.2 1942.2,1395.8 1960.5,1395.8" fill="#fff" stroke-width="9" stroke-linejoin="round" stroke="#00CCCC"/>
<text font-family="Liberation Serif, serif" font-weight="bold" font-size="53.5"><tspan x="2026.8" y="1420.5">G</tspan><tspan x="2070.9" y="1423.4" font-family="Noto Serif CJK SC, serif" font-size="46">&#39;</tspan><tspan x="2083.6" y="1423.4" font-family="Noto Serif CJK SC, serif" font-size="46">&#39;</tspan><tspan x="2097.9" y="1420.5"> PPG10</tspan></text>
</svg>
</body></html>
